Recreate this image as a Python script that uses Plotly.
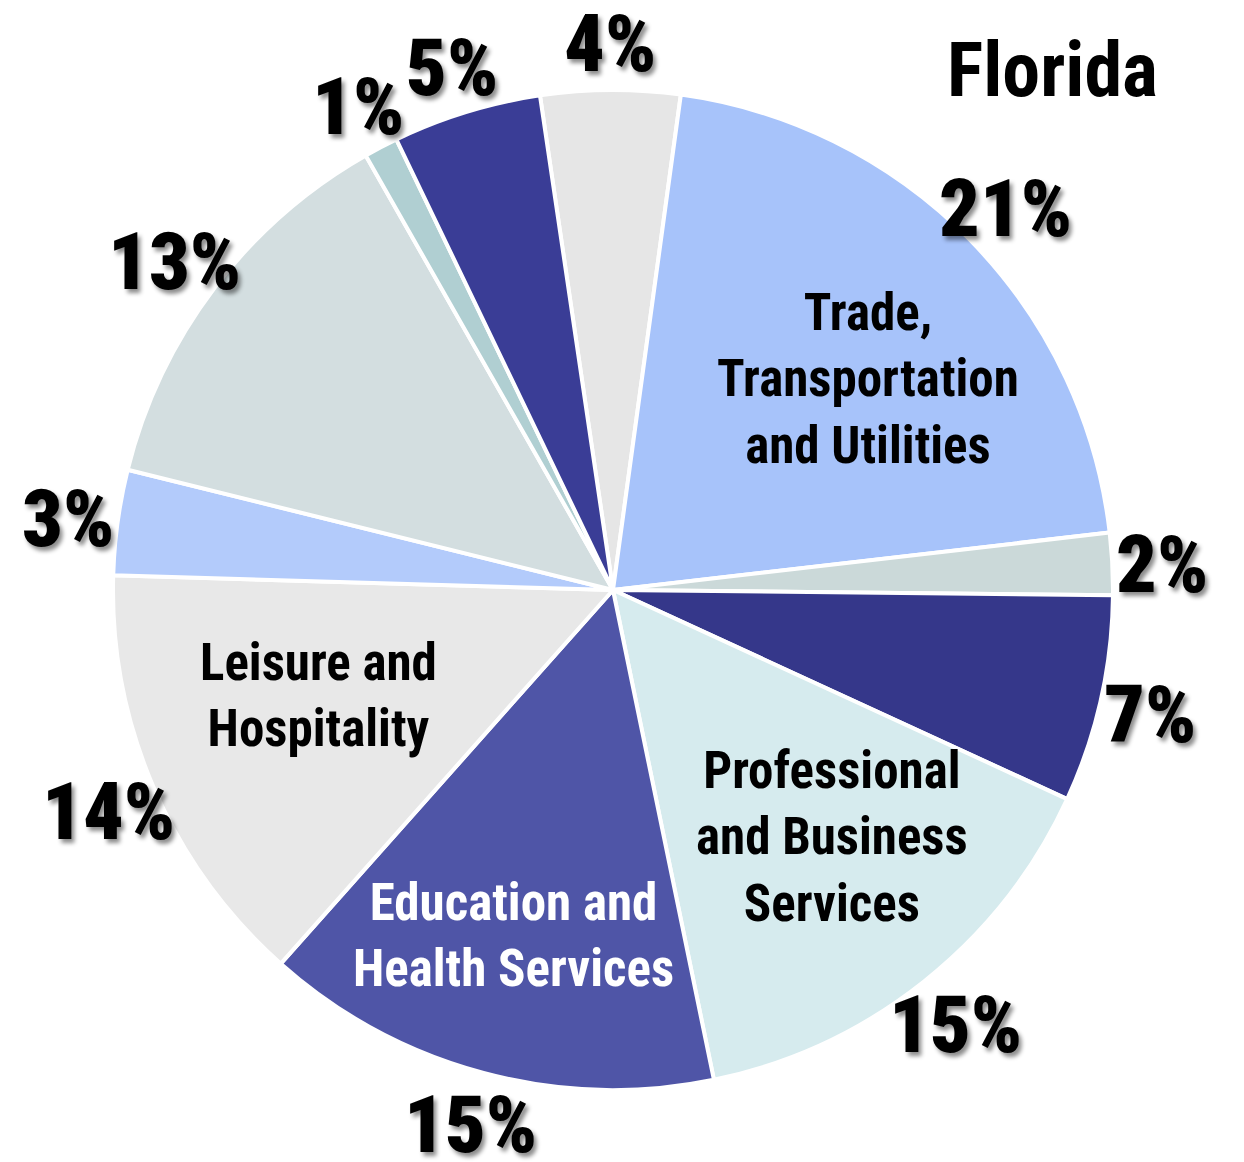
import numpy as np
import plotly.graph_objects as go

# Slices clockwise starting just left of 12 o'clock
sectors = ["Other A", "Trade, Transportation and Utilities", "Other B", "Other C",
           "Professional and Business Services", "Education and Health Services",
           "Leisure and Hospitality", "Other D", "Other E", "Other F", "Other G"]
shares = [4.5, 21.0, 2.0, 6.7, 14.9, 14.8, 13.9, 3.4, 12.9, 1.1, 4.8]
pct_labels = ["4%", "21%", "2%", "7%", "15%", "15%", "14%", "3%", "13%", "1%", "5%"]
inside_labels = ["", "Trade,<br>Transportation<br>and Utilities", "", "",
                 "Professional<br>and Business<br>Services",
                 "Education and<br>Health Services",
                 "Leisure and<br>Hospitality", "", "", "", ""]
colors = ["#E6E6E6", "#A7C3FA", "#CBD9D9", "#35378A", "#D6EBEE", "#4F55A7",
          "#E8E8E8", "#B3CBFB", "#D3DEE0", "#B0CFD2", "#3A3D96"]
inside_colors = ["black", "black", "black", "black", "black", "white",
                 "black", "black", "black", "black", "black"]
title_text = "Florida"

# small pixel nudges for the in-slice category labels (style only)
label_nudge = {1: (19, -20), 4: (14, 11), 5: (-14, -27), 6: (8, 25)}

ROT = -8.4
FONT = "Roboto Condensed, Roboto, DejaVu Sans Condensed, sans-serif"

W, H = 1244, 1162
L, T, SIDE = 113, 90, 1000  # pie domain in pixels

fig = go.Figure(go.Pie(
    labels=sectors, values=shares, sort=False, direction="clockwise",
    rotation=ROT, textinfo="none", hoverinfo="label+percent",
    marker=dict(colors=colors, line=dict(color="white", width=4)),
    showlegend=False, domain=dict(x=[0, 1], y=[0, 1]),
))

vals = np.array(shares, dtype=float)
frac = vals / vals.sum()
ends = np.cumsum(frac) * 360.0 + ROT
starts = ends - frac * 360.0
mids = np.radians((starts + ends) / 2.0)

annotations = []
for m, lab in zip(mids, pct_labels):
    k = 1.10
    annotations.append(dict(
        x=0.5 + 0.5 * k * np.sin(m), y=0.5 + 0.5 * k * np.cos(m),
        xref="paper", yref="paper", text=lab, showarrow=False,
        xanchor="center", yanchor="middle", yshift=-4,
        font=dict(family=FONT, size=80, color="black", weight=900,
                  shadow="3px 4px 4px rgba(0,0,0,0.45)"),
    ))
for i, (m, lab, c) in enumerate(zip(mids, inside_labels, inside_colors)):
    if not lab:
        continue
    k = 0.66
    dx, dy = label_nudge.get(i, (0, 0))
    annotations.append(dict(
        x=0.5 + 0.5 * k * np.sin(m), y=0.5 + 0.5 * k * np.cos(m),
        xref="paper", yref="paper", text=lab, showarrow=False,
        xanchor="center", yanchor="middle", xshift=dx, yshift=dy,
        font=dict(family=FONT, size=51, color=c, weight="bold"),
    ))
annotations.append(dict(
    x=(1160 - L) / SIDE, y=1 - (70 - T) / SIDE, xref="paper", yref="paper",
    text=title_text, showarrow=False, xanchor="right", yanchor="middle",
    font=dict(family=FONT, size=76, color="black", weight="bold"),
))

fig.update_layout(
    width=W, height=H,
    margin=dict(l=L, r=W - L - SIDE, t=T, b=H - T - SIDE),
    paper_bgcolor="white", plot_bgcolor="white",
    annotations=annotations,
)
fig.write_html("out.html", config={"displayModeBar": False},
               post_script="document.body.style.margin='0';document.body.style.overflow='hidden';")
